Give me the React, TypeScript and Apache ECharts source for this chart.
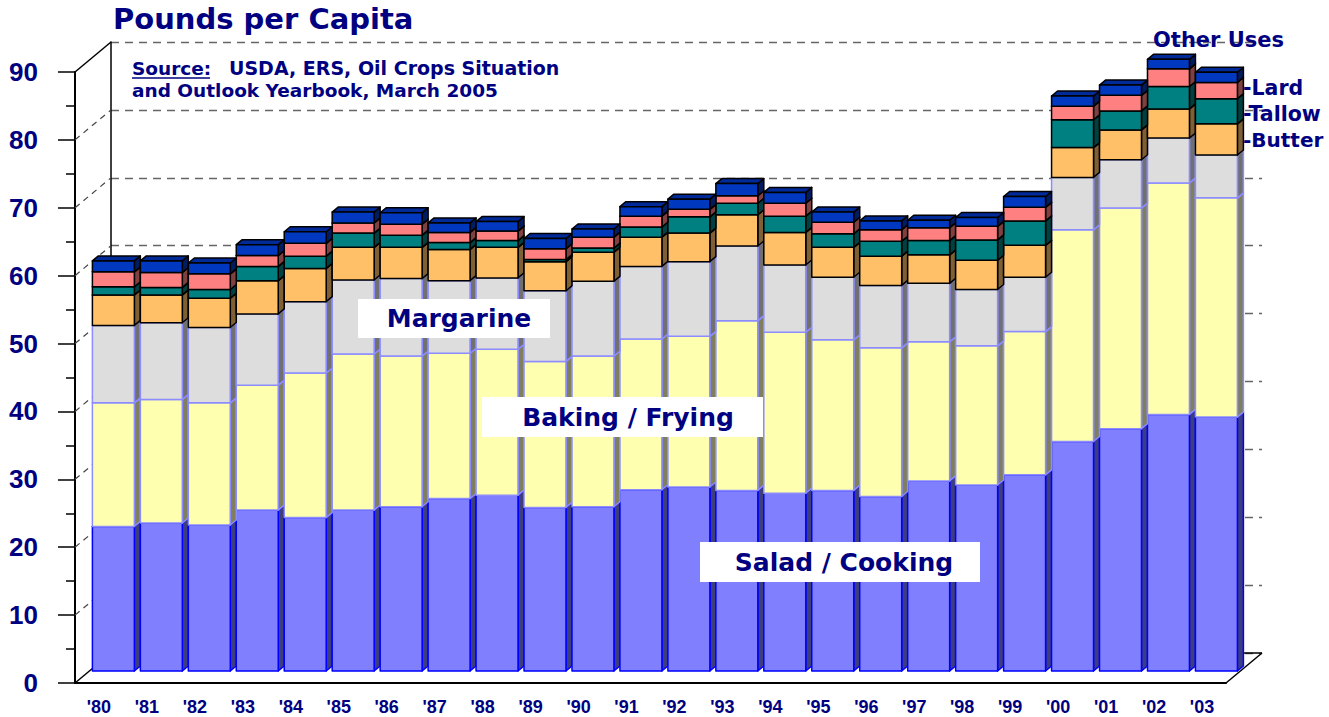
import React, { useEffect, useRef } from "react";
import * as echarts from "echarts";

// ---------- data ----------
const years = ["'80", "'81", "'82", "'83", "'84", "'85", "'86", "'87", "'88", "'89", "'90", "'91", "'92", "'93", "'94", "'95", "'96", "'97", "'98", "'99", "'00", "'01", "'02", "'03"];
const saladCooking = [21.3, 21.8, 21.5, 23.7, 22.6, 23.7, 24.2, 25.4, 25.9, 24.1, 24.2, 26.7, 27.1, 26.6, 26.2, 26.6, 25.7, 28.0, 27.4, 28.9, 33.8, 35.7, 37.8, 37.4];
const bakingFrying = [18.2, 18.2, 18.0, 18.4, 21.3, 23.0, 22.2, 21.4, 21.5, 21.5, 22.2, 22.2, 22.2, 25.0, 23.7, 22.2, 21.9, 20.5, 20.5, 21.1, 31.2, 32.5, 34.1, 32.3];
const margarine = [11.4, 11.3, 11.1, 10.5, 10.5, 10.9, 11.4, 10.7, 10.5, 10.4, 11.0, 10.7, 11.0, 11.0, 9.9, 9.2, 9.2, 8.6, 8.3, 8.0, 7.7, 7.1, 6.6, 6.3];
const butter = [4.5, 4.1, 4.3, 4.9, 4.9, 4.8, 4.6, 4.6, 4.5, 4.3, 4.3, 4.3, 4.2, 4.6, 4.8, 4.4, 4.3, 4.2, 4.3, 4.7, 4.4, 4.4, 4.3, 4.6];
const tallow = [1.2, 1.1, 1.3, 2.1, 1.8, 2.1, 1.8, 1.0, 1.0, 0.3, 0.6, 1.5, 2.4, 1.7, 2.4, 2.0, 2.2, 2.1, 3.0, 3.6, 4.1, 2.8, 3.3, 3.7];
const lard = [2.2, 2.2, 2.3, 1.6, 1.9, 1.5, 1.6, 1.5, 1.4, 1.6, 1.6, 1.6, 1.1, 1.1, 1.9, 1.7, 1.7, 1.9, 2.0, 2.0, 2.0, 2.3, 2.6, 2.4];
const otherUses = [1.6, 1.7, 1.6, 1.6, 1.7, 1.6, 1.7, 1.4, 1.4, 1.5, 1.2, 1.4, 1.5, 1.8, 1.6, 1.5, 1.3, 1.1, 1.3, 1.6, 1.5, 1.5, 1.4, 1.5];
const yTicks = [0, 10, 20, 30, 40, 50, 60, 70, 80, 90];

// ---------- layout / style ----------
const NAVY = "#000080";
const FRONT_LEFT = 75;
const FRONT_TOP = 72;
const PLOT_W = 1151;
const PLOT_H = 611;
const WALL_DX = 36;
const WALL_DY = 30;
const BAR_PLANE = 0.4;
const BAR_DX = 6;
const BAR_DY = 5;
const BAR_RATIO = 0.875;

const layers = [
  { name: "Salad / Cooking", values: saladCooking, fill: "#8080FF", side: "#3E3E7C", top: "#6060C0", stroke: "#0000FF", lw: 1.5 },
  { name: "Baking / Frying", values: bakingFrying, fill: "#FFFFB0", side: "#7F7F5E", top: "#CCCC8C", stroke: "#8C8CFF", lw: 1.5 },
  { name: "Margarine", values: margarine, fill: "#DDDDDD", side: "#707070", top: "#B0B0B0", stroke: "#8C8CFF", lw: 1.5 },
  { name: "Butter", values: butter, fill: "#FFC068", side: "#7F6034", top: "#C89650", stroke: "#000000", lw: 1.5 },
  { name: "Tallow", values: tallow, fill: "#008080", side: "#004040", top: "#006060", stroke: "#000000", lw: 1.5 },
  { name: "Lard", values: lard, fill: "#FF8080", side: "#804040", top: "#C86464", stroke: "#000000", lw: 1.5 },
  { name: "Other Uses", values: otherUses, fill: "#0038C0", side: "#001C60", top: "#002A98", stroke: "#000000", lw: 1.5 },
];

function buildBarSeries() {
  const cum = years.map(() => 0);
  return layers.map((layer) => {
    const data = layer.values.map((v, i) => {
      const b = cum[i];
      cum[i] = b + v;
      return [i, b, b + v];
    });
    return {
      type: "custom",
      name: layer.name,
      xAxisIndex: 1,
      yAxisIndex: 1,
      z: 2,
      encode: { x: 0, y: 2 },
      data,
      renderItem: (_params: any, api: any) => {
        const i = api.value(0);
        const pb = api.coord([i, api.value(1)]);
        const pt = api.coord([i, api.value(2)]);
        const band = api.size([1, 0])[0];
        const w = band * BAR_RATIO;
        const L = pb[0] - w / 2;
        const R = pb[0] + w / 2;
        const yb = pb[1];
        const yt = pt[1];
        const st = { stroke: layer.stroke, lineWidth: layer.lw, lineJoin: "round" };
        return {
          type: "group",
          children: [
            { type: "polygon", shape: { points: [[R, yt], [R + BAR_DX, yt - BAR_DY], [R + BAR_DX, yb - BAR_DY], [R, yb]] }, style: { ...st, fill: layer.side } },
            { type: "polygon", shape: { points: [[L, yt], [L + BAR_DX, yt - BAR_DY], [R + BAR_DX, yt - BAR_DY], [R, yt]] }, style: { ...st, fill: layer.top } },
            { type: "rect", shape: { x: L, y: yt, width: w, height: yb - yt }, style: { ...st, fill: layer.fill } },
          ],
        };
      },
    };
  });
}

const frameSeries = {
  type: "custom",
  xAxisIndex: 0,
  yAxisIndex: 0,
  z: 1,
  silent: true,
  encode: { x: 0, y: 1 },
  data: yTicks.map((v) => [0, v]),
  renderItem: (_params: any, api: any) => {
    const v = api.value(1);
    const p = api.coord([0, v]);
    const band = api.size([1, 0])[0];
    const x0 = p[0] - band / 2;
    const inner = v > yTicks[0] && v < yTicks[yTicks.length - 1];
    const children: any[] = [
      {
        type: "line",
        shape: { x1: x0, y1: p[1], x2: x0 + WALL_DX, y2: p[1] - WALL_DY },
        style: inner ? { stroke: "#444", lineWidth: 1.2, lineDash: [6, 5] } : { stroke: "#000", lineWidth: 1.5 },
      },
    ];
    if (v === yTicks[0]) {
      const pr = api.coord([years.length - 1, 0]);
      const x1 = pr[0] + band / 2;
      children.push({ type: "line", shape: { x1, y1: p[1], x2: x1 + WALL_DX, y2: p[1] - WALL_DY }, style: { stroke: "#000", lineWidth: 1.5 } });
      children.push({ type: "line", shape: { x1: x0 + WALL_DX, y1: p[1] - WALL_DY, x2: x1 + WALL_DX, y2: p[1] - WALL_DY }, style: { stroke: "#000", lineWidth: 1.5 } });
    }
    return { type: "group", children };
  },
};

const boldWide = { fontFamily: "DejaVu Sans", fontWeight: "bold" };

function labelBox(text: string, x: number, y: number, w: number, h: number, cx: number) {
  return [
    { type: "rect", z: 100, shape: { x, y, width: w, height: h }, style: { fill: "#FFFFFF" } },
    { type: "text", z: 101, x: cx, y: y + h / 2, style: { text, ...boldWide, fontSize: 25, fill: NAVY, align: "center", verticalAlign: "middle" } },
  ];
}

function textAt(text: string, x: number, y: number, size: number) {
  return { type: "text", z: 101, x, y, style: { text, ...boldWide, fontSize: size, fill: NAVY, align: "left", verticalAlign: "middle" } };
}

export default function App() {
  const ref = useRef<HTMLDivElement>(null);
  useEffect(() => {
    if (!ref.current) return;
    const chart = echarts.init(ref.current, null, { renderer: "svg" });
    const option: any = {
      animation: false,
      backgroundColor: "#FFFFFF",
      grid: [
        { left: FRONT_LEFT, top: FRONT_TOP, width: PLOT_W, height: PLOT_H },
        { left: FRONT_LEFT + WALL_DX * BAR_PLANE, top: FRONT_TOP - WALL_DY * BAR_PLANE, width: PLOT_W, height: PLOT_H },
        { left: FRONT_LEFT + WALL_DX, top: FRONT_TOP - WALL_DY, width: PLOT_W, height: PLOT_H },
      ],
      xAxis: [
        {
          gridIndex: 0,
          type: "category",
          data: years,
          axisLine: { show: true, lineStyle: { color: "#000", width: 2 } },
          axisTick: { show: false },
          axisLabel: { margin: 15, fontFamily: "Liberation Sans", fontWeight: "bold", fontSize: 18, color: NAVY, interval: 0 },
          splitLine: { show: false },
        },
        { gridIndex: 1, type: "category", data: years, show: false },
        { gridIndex: 2, type: "category", data: years, show: false },
      ],
      yAxis: [
        {
          gridIndex: 0,
          type: "value",
          min: 0,
          max: 90,
          interval: 10,
          axisLine: { show: true, lineStyle: { color: "#000", width: 2 } },
          axisTick: { show: true, length: 17, lineStyle: { color: "#000", width: 1.5 } },
          minorTick: { show: true, splitNumber: 2, length: 9, lineStyle: { color: "#000", width: 1.5 } },
          axisLabel: { margin: 37, fontFamily: "Liberation Sans", fontWeight: "bold", fontSize: 26, color: NAVY },
          splitLine: { show: false },
        },
        { gridIndex: 1, type: "value", min: 0, max: 90, show: false },
        {
          gridIndex: 2,
          type: "value",
          min: 0,
          max: 90,
          interval: 10,
          axisLine: { show: true, lineStyle: { color: "#000", width: 1.5 } },
          axisTick: { show: false },
          axisLabel: { show: false },
          splitLine: { show: true, lineStyle: { color: "#666", width: 1.3, type: [8, 6] } },
        },
      ],
      series: [frameSeries, ...buildBarSeries()],
      graphic: [
        textAt("Pounds per Capita", 113, 19, 29),
        textAt("Source:", 132, 68, 18.5),
        { type: "line", z: 101, shape: { x1: 132, y1: 78, x2: 210, y2: 78 }, style: { stroke: NAVY, lineWidth: 1.5 } },
        textAt("USDA, ERS, Oil Crops Situation", 229, 68, 19),
        textAt("and Outlook Yearbook, March 2005", 132, 90, 18.5),
        textAt("Other Uses", 1153, 40, 21),
        textAt("-Lard", 1243, 88, 20.5),
        textAt("-Tallow", 1243, 114, 20.5),
        textAt("-Butter", 1243, 140, 20),
        ...labelBox("Margarine", 358, 299, 192, 39, 459),
        ...labelBox("Baking / Frying", 482, 397, 281, 40, 628),
        ...labelBox("Salad / Cooking", 700, 542, 280, 40, 844),
      ],
    };
    chart.setOption(option);
    return () => chart.dispose();
  }, []);
  return <div ref={ref} style={{ position: "fixed", left: 0, top: 0, width: 1329, height: 717 }} />;
}
